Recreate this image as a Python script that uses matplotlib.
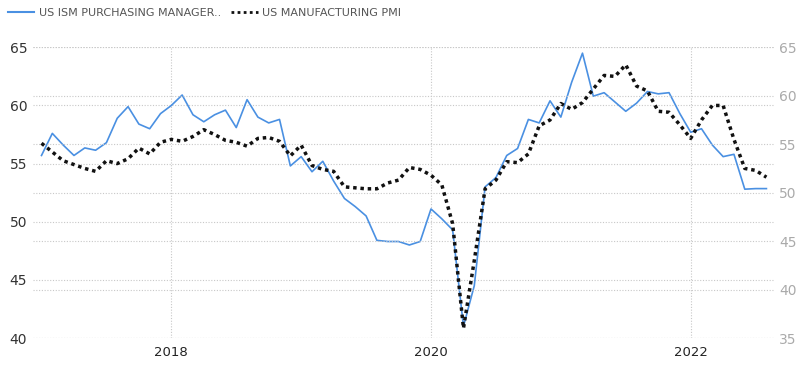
import numpy as np
import matplotlib
matplotlib.use("Agg")
import matplotlib.pyplot as plt
from matplotlib.lines import Line2D

# =========================
# Data (monthly, Jan 2017 - Aug 2022)
# =========================
start_year = 2017
ism_pmi = [55.7, 57.6, 56.6, 55.7, 56.35, 56.15, 56.8, 58.9, 59.9, 58.4, 58.0, 59.3,
           60.0, 60.9, 59.2, 58.6, 59.2, 59.6, 58.1, 60.5, 59.0, 58.5, 58.8, 54.8,
           55.6, 54.3, 55.2, 53.5, 52.0, 51.3, 50.5, 48.4, 48.3, 48.3, 48.0, 48.3,
           51.1, 50.25, 49.3, 41.0, 44.5, 53.0, 53.8, 55.7, 56.3, 58.8, 58.5, 60.4,
           59.0, 62.0, 64.5, 60.8, 61.1, 60.3, 59.5, 60.2, 61.2, 61.0, 61.1, 59.3,
           57.7, 58.0, 56.6, 55.6, 55.8, 52.8, 52.85, 52.85]
mfg_pmi = [55.1, 54.2, 53.3, 52.9, 52.5, 52.2, 53.3, 53.0, 53.5, 54.6, 54.0, 55.2,
           55.5, 55.3, 55.8, 56.5, 56.0, 55.4, 55.2, 54.8, 55.6, 55.7, 55.3, 53.8,
           54.9, 52.8, 52.4, 52.2, 50.6, 50.5, 50.4, 50.4, 51.0, 51.3, 52.6, 52.4,
           51.8, 50.8, 46.8, 36.0, 43.0, 50.4, 51.3, 53.2, 53.1, 54.0, 56.9, 57.5,
           59.2, 58.6, 59.3, 60.7, 62.1, 62.0, 63.2, 61.0, 60.5, 58.4, 58.3, 57.0,
           55.6, 57.5, 59.0, 59.0, 55.5, 52.5, 52.3, 51.6]
year_ticks = [2018, 2020, 2022]
left_ticks = [40, 45, 50, 55, 60, 65]
right_ticks = [35, 40, 45, 50, 55, 60, 65]

x = start_year + np.arange(len(ism_pmi)) / 12.0

# =========================
# Figure
# =========================
fig = plt.figure(figsize=(8, 3.67), dpi=100)
ax = fig.add_axes([0.041, 0.079, 0.928, 0.792])
ax2 = ax.twinx()

blue = "#4a90e2"
grid_kw = dict(color="#c8c8c8", linestyle=(0, (1, 1.5)), linewidth=0.8)

ax.plot(x, ism_pmi, color=blue, linewidth=1.2, zorder=3)
ax2.plot(x, mfg_pmi, color="#111111", linewidth=2.5, linestyle=(0, (1, 1.1)), zorder=3)

ax.set_xlim(2016.933, 2022.651)
ax.set_ylim(40, 65)
ax2.set_ylim(35, 65)
ax.set_xticks(year_ticks)
ax.set_xticklabels([str(y) for y in year_ticks])
ax.set_yticks(left_ticks)
ax2.set_yticks(right_ticks)

# gridlines for both axes
for v in left_ticks:
    ax.axhline(v, zorder=0, **grid_kw)
for v in right_ticks:
    ax2.axhline(v, zorder=0, **grid_kw)
for v in year_ticks:
    ax.axvline(v, zorder=0, **grid_kw)

for a in (ax, ax2):
    for s in a.spines.values():
        s.set_visible(False)
    a.tick_params(length=0)

ax.tick_params(axis="y", labelsize=10, labelcolor="#333333", pad=4)
ax.tick_params(axis="x", labelsize=9.5, labelcolor="#222222", pad=6)
ax2.tick_params(axis="y", labelsize=10, labelcolor="#aaaaaa", pad=3)
for lab in ax.get_xticklabels():
    lab.set_family(["Liberation Sans Narrow", "DejaVu Sans"])
for lab in ax2.get_yticklabels():
    lab.set_family(["Liberation Sans Narrow", "DejaVu Sans"])

# =========================
# Legend
# =========================
handles = [
    Line2D([], [], color=blue, linewidth=1.5),
    Line2D([], [], color="#111111", linewidth=2.0, linestyle=(0, (1, 1.2))),
]
labels = ["US ISM PURCHASING MANAGER..", "US MANUFACTURING PMI"]
leg = fig.legend(handles, labels, loc="upper left", bbox_to_anchor=(0.0, 1.0),
                 ncol=2, frameon=False, fontsize=8, handlelength=2.4,
                 handletextpad=0.4, columnspacing=0.9, borderaxespad=0.3)
for t in leg.get_texts():
    t.set_color("#555555")

fig.savefig("out.png", dpi=100)
